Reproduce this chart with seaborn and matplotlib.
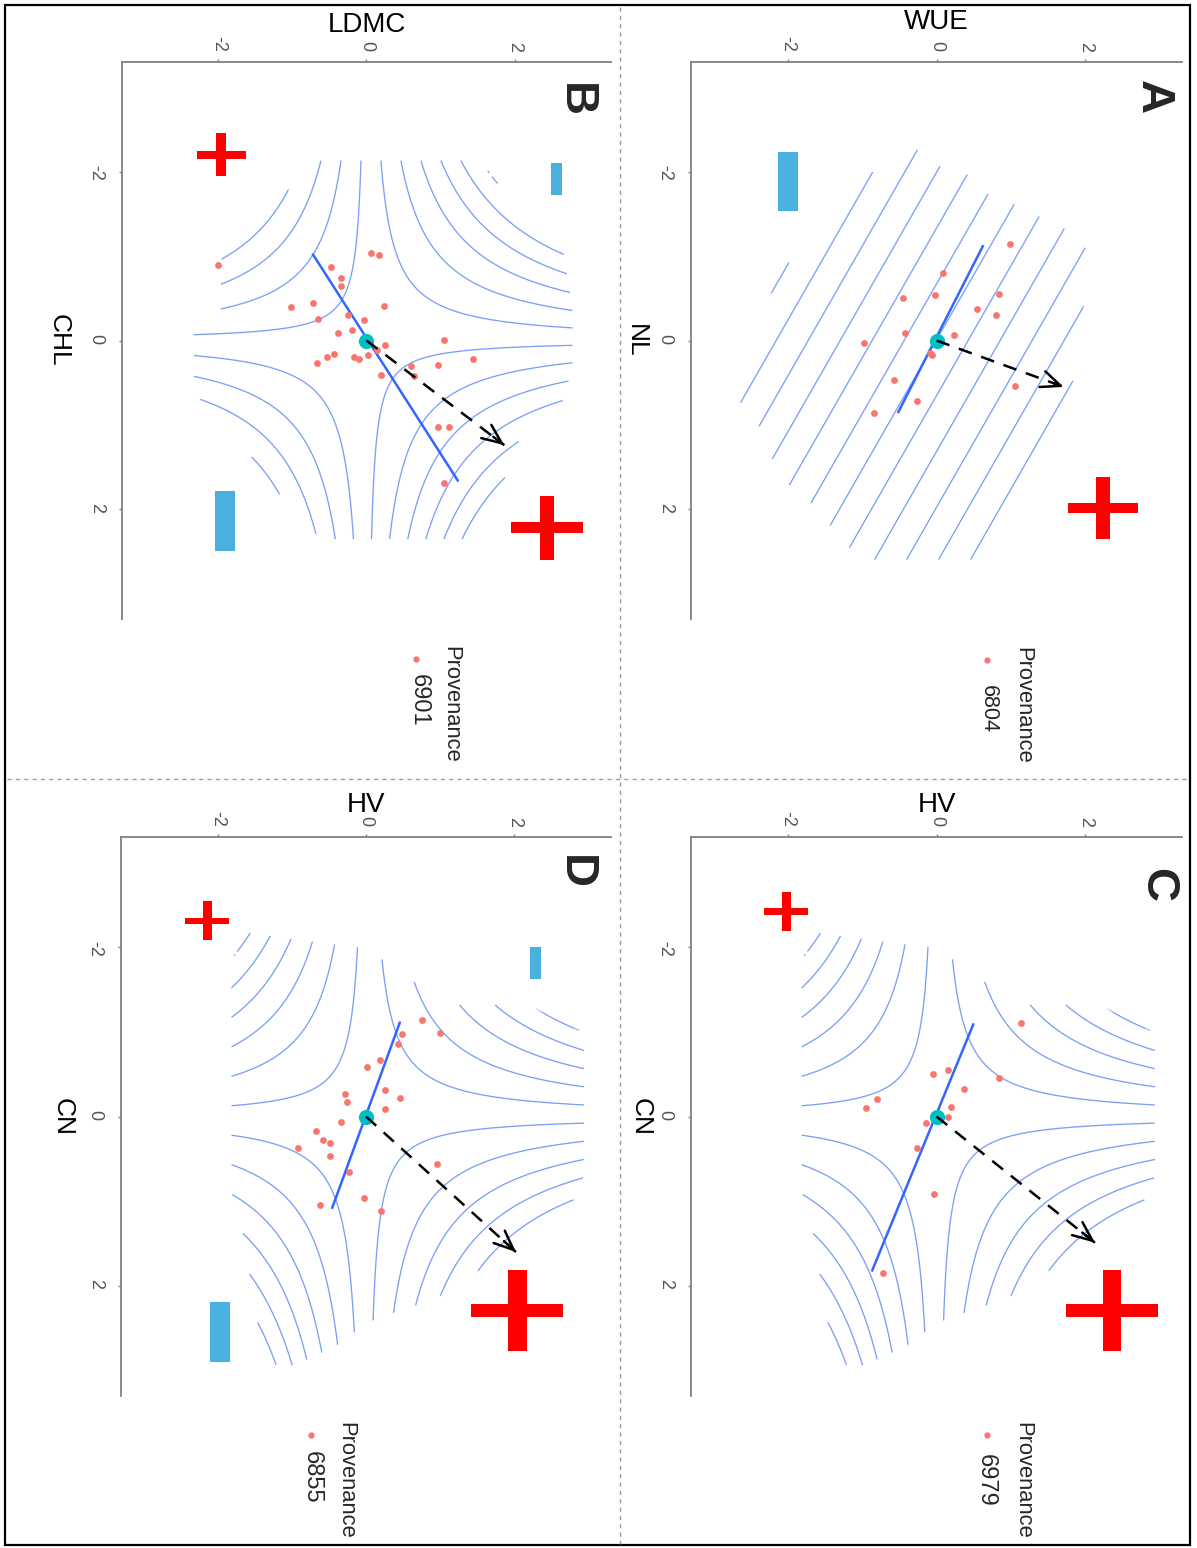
import numpy as np
import pandas as pd
import matplotlib
matplotlib.use('Agg')
import matplotlib.pyplot as plt
import seaborn as sns
from matplotlib.path import Path
from matplotlib.lines import Line2D
from matplotlib.patches import Rectangle

W, H = 1197, 1548

# ---------------- Panel A : NL (vertical) x WUE (horizontal), provenance 6804
A_NL = [-1.14, -0.80, -0.54, -0.50, -0.55, -0.37, -0.30, -0.09, -0.06, 0.03, 0.15, 0.17, 0.47, 0.54, 0.72, 0.86]
A_WUE = [0.99, 0.09, -0.02, -0.45, 0.84, 0.54, 0.80, -0.43, 0.23, -0.97, -0.09, -0.06, -0.57, 1.05, -0.26, -0.84]
A_LINE_NL = [-1.13, 0.86]
A_LINE_WUE = [0.63, -0.52]
A_ARROW_NL = [0.0, 0.55]
A_ARROW_WUE = [0.0, 1.71]
A_PLUS_NL, A_PLUS_WUE, A_PLUS_PX = [1.98], [2.24], [70]
A_MINUS_NL, A_MINUS_WUE, A_MINUS_PX = [-1.89], [-2.00], [59]
A_HULL_NL = [-2.30, -1.95, -0.8, -0.6, 0.35, 0.72, 1.0, 1.4, 1.7, 1.92, 2.18, 2.44, 2.60, 2.60,
             1.8, 0.36, -0.5, -1.2, -1.35, -1.5, -1.63, -1.75, -1.98, -2.08]
A_HULL_WUE = [-0.30, -0.95, -2.12, -2.22, -2.42, -2.66, -2.40, -2.22, -2.0, -1.70, -1.45, -1.22, -0.85, 0.85,
              1.40, 1.88, 2.0, 2.0, 1.68, 1.32, 1.02, 0.66, 0.40, 0.0]
A_SURF = [0.0, 0.0, 0.0, 0.65, 1.0]      # x^2, y^2, xy, x, y
A_LEVELS = [-2.585, 0.43, 13]             # first level, step, count

# ---------------- Panel B : CHL (vertical) x LDMC (horizontal), provenance 6901
B_CHL = [-0.89, -1.04, -1.01, -0.87, -0.74, -0.64, -0.40, -0.45, -0.41, -0.25, -0.30, -0.24, -0.09, -0.13,
         0.05, -0.01, 0.27, 0.19, 0.16, 0.19, 0.22, 0.17, 0.11, 0.30, 0.29, 0.22, 0.41, 0.42, 1.02, 1.02, 1.69]
B_LDMC = [-2.01, 0.06, 0.17, -0.48, -0.35, -0.34, -1.02, -0.72, 0.23, -0.66, -0.25, -0.03, -0.39, -0.19,
          0.25, 1.04, -0.67, -0.53, -0.44, -0.17, -0.10, 0.02, 0.14, 0.60, 0.96, 1.44, 0.20, 0.64, 0.97, 1.12, 1.04]
B_LINE_CHL = [-1.03, 1.67]
B_LINE_LDMC = [-0.73, 1.24]
B_ARROW_CHL = [0.0, 1.24]
B_ARROW_LDMC = [0.0, 1.86]
B_PLUS_CHL, B_PLUS_LDMC, B_PLUS_PX = [-2.20, 2.22], [-1.96, 2.44], [49, 72]
B_MINUS_CHL, B_MINUS_LDMC, B_MINUS_PX = [-1.91, 2.14], [2.57, -1.91], [32, 60]
B_HULL_CHL = [-2.14, -2.14, -1.55, -1.07, -0.4, 0.3, 0.74, 1.16, 2.13, 2.36, 2.36, 2.12, 1.10, 0.62,
              -0.15, -0.3, -0.95, -1.8]
B_HULL_LDMC = [-0.62, 1.52, 2.06, 2.66, 2.79, 2.79, 2.65, 2.08, 1.66, 1.5, -0.6, -0.93, -1.79, -2.34,
               -2.34, -1.97, -1.98, -1.05]
B_SURF = [0.0, 0.0, 1.0, 0.0, 0.0]
B_LEVELS = [-3.29, 0.575, 13]

# ---------------- Panel C : CN (vertical) x HV (horizontal), provenance 6979
C_CN = [-1.10, -0.50, -0.55, -0.46, -0.32, -0.21, -0.10, -0.11, 0.0, 0.08, 0.37, 0.91, 1.85]
C_HV = [1.13, -0.05, 0.16, 0.84, 0.37, -0.80, -0.95, 0.19, 0.15, -0.14, -0.26, -0.04, -0.72]
C_LINE_CN = [-1.10, 1.83]
C_LINE_HV = [0.50, -0.87]
C_ARROW_CN = [0.0, 1.49]
C_ARROW_HV = [0.0, 2.13]
C_PLUS_CN, C_PLUS_HV, C_PLUS_PX = [-2.42, 2.29], [-2.02, 2.36], [44, 92]
C_MINUS_CN, C_MINUS_HV, C_MINUS_PX = [], [], []

# ---------------- Panel D : CN (vertical) x HV (horizontal), provenance 6855
D_CN = [-1.14, -0.99, -0.97, -0.86, -0.67, -0.59, -0.31, -0.22, -0.26, -0.17, -0.09, 0.06, 0.17, 0.28,
        0.31, 0.37, 0.47, 0.56, 0.66, 0.96, 1.04, 1.11]
D_HV = [0.75, 1.00, 0.49, 0.43, 0.19, 0.01, 0.26, 0.46, -0.28, -0.25, 0.26, -0.34, -0.68, -0.58,
        -0.49, -0.92, -0.49, 0.95, -0.23, -0.03, -0.62, 0.20]
D_LINE_CN = [-1.12, 1.09]
D_LINE_HV = [0.46, -0.46]
D_ARROW_CN = [0.0, 1.60]
D_ARROW_HV = [0.0, 2.02]
D_PLUS_CN, D_PLUS_HV, D_PLUS_PX = [-2.31, 2.29], [-2.14, 2.04], [44, 92]
D_MINUS_CN, D_MINUS_HV, D_MINUS_PX = [-1.81, 2.54], [2.28, -1.97], [32, 60]

# C and D share the same response surface
CD_HULL_CN = [-2.17, -2.01, -1.87, -1.60, -1.32, -1.32, -0.99, 0.71, 1.24, 1.85, 2.13, 2.41, 2.53, 2.70,
              2.94, 2.94, 2.49, 1.85, 1.31, 0.87, -1.85]
CD_HULL_HV = [-1.57, -0.12, 0.20, 0.63, 1.24, 2.19, 2.94, 2.94, 2.67, 1.47, 0.99, 0.11, -0.12, -0.37,
              -0.96, -1.21, -1.45, -1.58, -1.68, -1.82, -1.82]
CD_SURF = [0.0, 0.0, 1.0, 0.0, 0.0]
CD_LEVELS = [-3.55, 0.63, 12]

CENTER_X, CENTER_Y = [0.0], [0.0]
TICKS = [-2, 0, 2]
TICK_LABELS = ['-2', '0', '2']
LIM = 3.3

sns.set_theme(style='white')
plt.rcParams['font.family'] = ['Liberation Sans', 'DejaVu Sans']
plt.rcParams['contour.negative_linestyle'] = 'solid'

PLUS = Path([(-0.5, -0.075), (-0.1, -0.075), (-0.1, -0.44), (0.1, -0.44), (0.1, -0.075), (0.5, -0.075),
             (0.5, 0.075), (0.1, 0.075), (0.1, 0.44), (-0.1, 0.44), (-0.1, 0.075), (-0.5, 0.075),
             (-0.5, -0.075)], closed=True)
MINUS = Path([(-0.17, -0.5), (0.17, -0.5), (0.17, 0.5), (-0.17, 0.5), (-0.17, -0.5)], closed=True)

panels = [
    dict(box=(691, 62, 1182, 619), vname='NL', hname='WUE', prov='6804', letter='A',
         v=A_NL, h=A_WUE, lv=A_LINE_NL, lh=A_LINE_WUE, av=A_ARROW_NL, ah=A_ARROW_WUE,
         pv=A_PLUS_NL, ph=A_PLUS_WUE, ppx=A_PLUS_PX, mv=A_MINUS_NL, mh=A_MINUS_WUE, mpx=A_MINUS_PX,
         hull_v=A_HULL_NL, hull_h=A_HULL_WUE, surf=A_SURF, levels=A_LEVELS,
         hlab_y=1.072, vlab_x=-0.112, letter_xy=(1153, 97),
         leg_title=(1023, 705.5), leg_dot=(987, 660), leg_lab=(988, 709), leg_size=15.5),
    dict(box=(122, 62, 611, 619), vname='CHL', hname='LDMC', prov='6901', letter='B',
         v=B_CHL, h=B_LDMC, lv=B_LINE_CHL, lh=B_LINE_LDMC, av=B_ARROW_CHL, ah=B_ARROW_LDMC,
         pv=B_PLUS_CHL, ph=B_PLUS_LDMC, ppx=B_PLUS_PX, mv=B_MINUS_CHL, mh=B_MINUS_LDMC, mpx=B_MINUS_PX,
         hull_v=B_HULL_CHL, hull_h=B_HULL_LDMC, surf=B_SURF, levels=B_LEVELS,
         hlab_y=1.066, vlab_x=-0.130, letter_xy=(575, 100),
         leg_title=(450.6, 704), leg_dot=(416, 659), leg_lab=(419, 700), leg_size=17),
    dict(box=(691, 837, 1182, 1396), vname='CN', hname='HV', prov='6979', letter='C',
         v=C_CN, h=C_HV, lv=C_LINE_CN, lh=C_LINE_HV, av=C_ARROW_CN, ah=C_ARROW_HV,
         pv=C_PLUS_CN, ph=C_PLUS_HV, ppx=C_PLUS_PX, mv=C_MINUS_CN, mh=C_MINUS_HV, mpx=C_MINUS_PX,
         hull_v=CD_HULL_CN, hull_h=CD_HULL_HV, surf=CD_SURF, levels=CD_LEVELS,
         hlab_y=1.057, vlab_x=-0.102, letter_xy=(1157, 885),
         leg_title=(1023, 1480), leg_dot=(987, 1435), leg_lab=(986, 1480), leg_size=17),
    dict(box=(121, 837, 611, 1396), vname='CN', hname='HV', prov='6855', letter='D',
         v=D_CN, h=D_HV, lv=D_LINE_CN, lh=D_LINE_HV, av=D_ARROW_CN, ah=D_ARROW_HV,
         pv=D_PLUS_CN, ph=D_PLUS_HV, ppx=D_PLUS_PX, mv=D_MINUS_CN, mh=D_MINUS_HV, mpx=D_MINUS_PX,
         hull_v=CD_HULL_CN, hull_h=CD_HULL_HV, surf=CD_SURF, levels=CD_LEVELS,
         hlab_y=1.057, vlab_x=-0.120, letter_xy=(575, 872),
         leg_title=(345.8, 1480), leg_dot=(311, 1435), leg_lab=(312, 1477.5), leg_size=17),
]


def fx(px):
    return px / W


def fy(py):
    return 1 - py / H


fig = plt.figure(figsize=(W / 100, H / 100), dpi=100)

grid = np.linspace(-LIM, LIM, 600)
GV, GH = np.meshgrid(grid, grid, indexing='ij')   # GV: original x (vertical), GH: original y

for p in panels:
    x0, y0, x1, y1 = p['box']
    ax = fig.add_axes([fx(x0), fy(y1), (x1 - x0) / W, (y1 - y0) / H])

    # response surface contours (original x runs downward, original y runs right)
    c = p['surf']
    Z = c[0] * GV ** 2 + c[1] * GH ** 2 + c[2] * GV * GH + c[3] * GV + c[4] * GH
    hull = Path(np.column_stack([p['hull_v'], p['hull_h']]))
    inside = hull.contains_points(np.column_stack([GV.ravel(), GH.ravel()])).reshape(GV.shape)
    Z = np.ma.masked_where(~inside, Z)
    start, step, n = p['levels']
    ax.contour(GH, GV, Z, levels=start + step * np.arange(n), colors='#7ba0f4',
               linewidths=0.95, linestyles='solid', zorder=1)

    ax.plot(p['lh'], p['lv'], color='#3366FF', lw=1.8, solid_capstyle='butt', zorder=2)

    df = pd.DataFrame({'h': p['h'], 'v': p['v']})
    sns.scatterplot(data=df, x='h', y='v', ax=ax, color='#F8766D', s=24, linewidth=0,
                    legend=False, zorder=3)
    ax.scatter(CENTER_Y, CENTER_X, color='#00BFC4', s=120, linewidth=0, zorder=4)

    # dashed arrow
    ax.plot(p['ah'], p['av'], color='black', lw=1.8, ls=(0, (5.5, 4)), zorder=5)
    ax.annotate('', xy=(p['ah'][1], p['av'][1]),
                xytext=(0.92 * p['ah'][1], 0.92 * p['av'][1]),
                arrowprops=dict(arrowstyle='->,head_length=0.7,head_width=0.3', lw=1.8,
                                color='black', shrinkA=0, shrinkB=0, mutation_scale=20),
                zorder=5)

    # + and - signs
    if p['pv']:
        ax.scatter(p['ph'], p['pv'], marker=PLUS, s=(np.array(p['ppx']) * 0.72) ** 2,
                   color='#FF0000', linewidth=0, zorder=3, clip_on=False)
    if p['mv']:
        ax.scatter(p['mh'], p['mv'], marker=MINUS, s=(np.array(p['mpx']) * 0.72) ** 2,
                   color='#49B0E0', linewidth=0, zorder=3, clip_on=False)

    ax.set_xlim(-LIM, LIM)
    ax.set_ylim(LIM, -LIM)
    ax.xaxis.tick_top()
    ax.xaxis.set_label_position('top')
    ax.set_xticks(TICKS)
    ax.set_xticklabels(TICK_LABELS)
    ax.set_yticks(TICKS)
    ax.set_yticklabels(TICK_LABELS)
    ax.tick_params(axis='x', labelrotation=-90, length=2.5, width=1, color='#808080',
                   labelcolor='#555555', labelsize=13, pad=5, top=True, bottom=False)
    ax.tick_params(axis='y', labelrotation=-90, length=2.5, width=1, color='#808080',
                   labelcolor='#555555', labelsize=13, pad=10, left=True)
    for s in ['right', 'bottom']:
        ax.spines[s].set_visible(False)
    for s in ['top', 'left']:
        ax.spines[s].set_color('#808080')
        ax.spines[s].set_linewidth(1.3)
    ax.set_facecolor('none')

    ax.set_xlabel(p['hname'], fontsize=20, color='black')
    ax.xaxis.set_label_coords(0.5, p['hlab_y'])
    ax.xaxis.label.set_va('center')
    ax.set_ylabel(p['vname'], fontsize=19, color='black', rotation=-90)
    ax.yaxis.set_label_coords(p['vlab_x'], 0.5)
    ax.yaxis.label.set_va('center')
    ax.yaxis.label.set_ha('center')

    # panel letter
    lx, ly = p['letter_xy']
    fig.text(fx(lx), fy(ly), p['letter'], rotation=-90, fontsize=34, fontweight='bold',
             ha='center', va='center')

    # legend (rotated with the figure)
    tx, ty = p['leg_title']
    fig.text(fx(tx), fy(ty), 'Provenance', rotation=-90, fontsize=15.8, ha='center', va='center')
    dx, dy = p['leg_dot']
    fig.add_artist(Line2D([fx(dx)], [fy(dy)], marker='o', markersize=3.5, color='#F8766D',
                          linestyle='none', transform=fig.transFigure))
    bx, by = p['leg_lab']
    fig.text(fx(bx), fy(by), p['prov'], rotation=-90, fontsize=p['leg_size'], ha='center', va='center')

# panel separators and outer frame
fig.add_artist(Line2D([fx(620), fx(620)], [fy(7), fy(1544)], color='#9a9a9a', lw=1,
                      ls=(0, (3, 3)), transform=fig.transFigure))
fig.add_artist(Line2D([fx(7), fx(1189)], [fy(779), fy(779)], color='#9a9a9a', lw=1,
                      ls=(0, (3, 3)), transform=fig.transFigure))
fig.add_artist(Rectangle((fx(5), fy(1545)), (1190 - 5) / W, (1545 - 5) / H, fill=False,
                         edgecolor='black', lw=1.6, transform=fig.transFigure))

fig.savefig('out.png', dpi=100)
